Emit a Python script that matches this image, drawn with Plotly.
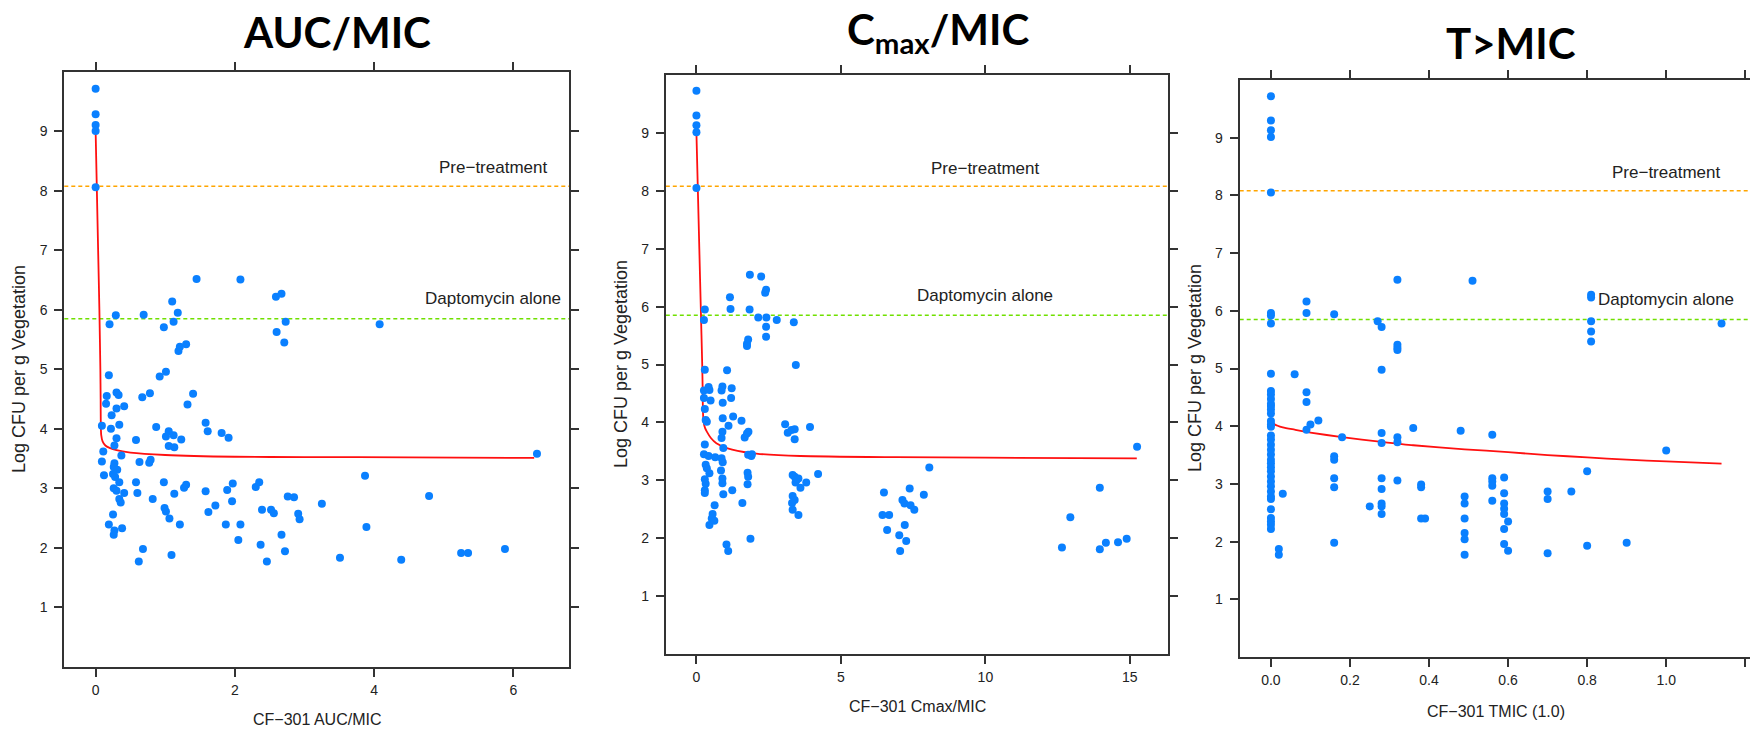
import plotly.graph_objects as go

# ---------------- data ----------------
# Panel 1: AUC/MIC
auc_x = [0, 0, 0, 0, 0,
         1.45, 2.08, 2.59, 2.67, 1.10, 0.29, 0.69, 1.18, 0.20, 0.98, 1.12, 2.73, 2.60, 2.71, 4.08,
         1.19, 1.21, 1.30, 0.19, 0.92, 1.01,
         0.16, 0.15, 0.30, 0.33, 0.30, 0.41, 0.23, 0.09, 0.22, 0.34, 0.30, 0.27, 0.11, 0.09, 0.12,
         0.37, 0.27, 0.26, 0.31, 0.25, 0.28, 0.34, 0.26, 0.30, 0.41, 0.34, 0.36, 0.25, 0.19, 0.38,
         0.27, 0.26, 0.67, 0.78, 0.87, 0.58, 0.63, 0.77, 0.79, 0.58, 0.60, 0.82, 0.98, 0.99, 1.01,
         1.06, 1.13, 1.21, 0.68, 0.62, 1.09, 1.01, 1.05, 1.12, 1.05, 1.13, 1.23, 1.32, 1.40, 1.27,
         1.30, 1.58, 1.61, 1.58, 1.62, 1.72, 1.81, 1.91, 1.87, 1.89, 1.97, 1.96, 2.08, 2.05, 2.30,
         2.35, 2.37, 2.39, 2.46, 2.52, 2.56, 2.67, 2.72, 2.76, 2.85, 2.91, 2.93, 3.25, 3.51, 3.87,
         3.89, 4.39, 4.79, 5.25, 5.35, 5.88, 6.34]
auc_y = [9.72, 9.29, 9.11, 9.01, 8.06,
         6.52, 6.51, 6.22, 6.27, 6.14, 5.91, 5.92, 5.95, 5.76, 5.71, 5.80, 5.80, 5.63, 5.45, 5.76,
         5.31, 5.38, 5.42, 4.90, 4.88, 4.96,
         4.55, 4.42, 4.61, 4.57, 4.34, 4.38, 4.23, 4.05, 4.00, 4.07, 3.84, 3.72, 3.62, 3.45, 3.22,
         3.55, 3.42, 3.36, 3.31, 3.24, 3.19, 3.10, 3.00, 2.96, 2.92, 2.82, 2.76, 2.56, 2.39, 2.33,
         2.29, 2.22, 4.53, 4.60, 4.03, 3.81, 3.44, 3.43, 3.48, 3.10, 2.92, 2.82, 3.10, 2.67, 2.61,
         2.49, 2.91, 2.39, 1.98, 1.77, 1.88, 3.87, 3.96, 3.89, 3.71, 3.69, 3.82, 4.41, 4.59, 3.01,
         3.06, 4.10, 3.96, 2.95, 2.60, 2.71, 3.93, 3.85, 2.39, 2.97, 3.08, 2.78, 2.39, 2.13, 3.02,
         3.10, 2.05, 2.64, 1.77, 2.64, 2.58, 2.22, 1.94, 2.86, 2.85, 2.57, 2.48, 2.74, 1.83, 3.21,
         2.35, 1.80, 2.87, 1.91, 1.91, 1.98, 3.58]
auc_fit_x = [0, 0.018, 0.036, 0.054, 0.068, 0.072, 0.074, 0.08, 0.1, 0.14, 0.2, 0.3, 0.5, 1.0,
             2.0, 3.0, 4.5, 6.3]
auc_fit_y = [9.0, 8.0, 7.0, 6.0, 5.0, 4.5, 4.1, 3.9, 3.79, 3.72, 3.68, 3.64, 3.60, 3.56,
             3.53, 3.525, 3.52, 3.51]

# Panel 2: Cmax/MIC
cmax_x = [0, 0, 0, 0, 0,
          0.29, 0.26, 1.16, 1.18, 1.85, 2.24, 2.41, 2.38, 1.84, 2.14, 2.42, 2.78, 3.37, 2.41, 2.41,
          1.79, 1.75, 1.75, 0.29, 1.06, 3.44,
          0.26, 0.42, 0.45, 0.26, 0.49, 0.29, 0.32, 0.36, 0.29, 0.26, 0.42, 0.65, 0.32, 0.36, 0.45,
          0.29, 0.32, 0.29, 0.29, 0.63, 0.56, 0.53, 0.45, 0.62, 0.90, 0.87, 1.22, 1.20, 0.91, 0.91,
          1.27, 1.11, 0.90, 0.87, 0.93, 0.87, 0.91, 0.85, 0.90, 0.90, 0.93, 1.24, 1.04, 1.10, 1.56,
          1.67, 1.75, 1.80, 1.79, 1.92, 1.90, 1.77, 1.79, 1.77, 1.59, 1.87, 3.07, 3.16, 3.29, 3.40,
          3.40, 3.93, 3.33, 3.40, 3.47, 3.53, 3.43, 3.60, 3.80, 4.21, 3.33, 3.40, 3.31, 3.33, 3.53,
          6.49, 6.44, 6.67, 6.60, 7.02, 7.05, 7.13, 7.20, 7.38, 7.41, 7.54, 7.21, 7.26, 7.87, 8.06,
          12.65, 12.94, 13.96, 13.96, 14.17, 14.59, 14.89, 15.25]
cmax_y = [9.73, 9.30, 9.13, 9.01, 8.05,
          5.95, 5.77, 6.16, 5.96, 6.55, 6.52, 6.29, 6.24, 5.95, 5.81, 5.81, 5.77, 5.73, 5.65, 5.48,
          5.43, 5.36, 5.32, 4.91, 4.90, 4.99,
          4.55, 4.61, 4.56, 4.42, 4.38, 4.23, 4.04, 4.01, 3.62, 3.45, 3.42, 3.40, 3.27, 3.21, 3.12,
          3.02, 2.94, 2.83, 2.78, 2.57, 2.42, 2.34, 2.23, 2.30, 4.62, 4.55, 4.59, 4.42, 4.34, 4.07,
          4.10, 3.94, 3.84, 3.73, 3.56, 3.38, 3.31, 3.17, 3.03, 2.95, 2.76, 2.83, 1.89, 1.78, 4.03,
          3.74, 3.81, 3.84, 3.44, 3.45, 3.42, 3.13, 3.06, 2.93, 2.61, 1.99, 3.97, 3.82, 3.87, 3.88,
          3.71, 3.92, 3.09, 3.06, 3.01, 3.03, 2.96, 2.87, 2.96, 3.11, 2.73, 2.66, 2.61, 2.49, 2.40,
          2.79, 2.40, 2.40, 2.14, 2.05, 1.78, 2.66, 2.60, 2.86, 2.57, 2.49, 2.23, 1.95, 2.75, 3.22,
          1.84, 2.36, 2.87, 1.81, 1.92, 1.93, 1.99, 3.58]
cmax_fit_x = [0, 0.05, 0.1, 0.15, 0.2, 0.215, 0.225, 0.25, 0.3, 0.36, 0.5, 0.69, 1.08, 1.88,
              3.6, 6.9, 10.0, 15.24]
cmax_fit_y = [9.0, 8.0, 7.0, 6.0, 5.0, 4.6, 4.2, 4.0, 3.9, 3.84, 3.73, 3.64, 3.55, 3.47,
              3.42, 3.40, 3.39, 3.38]

# Panel 3: T>MIC
tmic_x = [0, 0, 0, 0, 0, 0, 0, 0, 0, 0.06, 0.09, 0.09, 0.16, 0.27, 0.28, 0.32, 0.32, 0.32,
          0.32, 0.28, 0.51, 0.81, 0.81, 0.81, 0.81, 0.81, 1.14,
          0, 0, 0, 0, 0, 0, 0, 0, 0, 0, 0, 0, 0, 0, 0, 0, 0, 0, 0, 0, 0, 0, 0, 0, 0, 0, 0, 0, 0, 0,
          0.03, 0.02, 0.02, 0.09, 0.09, 0.09, 0.10, 0.12, 0.18, 0.16, 0.16, 0.16, 0.16, 0.16,
          0.25, 0.28, 0.28, 0.28, 0.28, 0.28, 0.28, 0.28, 0.32, 0.32, 0.32, 0.36, 0.38, 0.38,
          0.38, 0.39, 0.48, 0.49, 0.49, 0.49, 0.49, 0.49, 0.49, 0.56, 0.56, 0.56, 0.56, 0.56,
          0.59, 0.59, 0.59, 0.59, 0.59, 0.59, 0.59, 0.60, 0.60, 0.70, 0.70, 0.70, 0.76, 0.80,
          0.80, 0.90, 1.00]
tmic_y = [9.72, 9.30, 9.13, 9.01, 8.05, 5.96, 5.92, 5.78, 4.91, 4.90, 6.16, 5.96, 5.94, 5.82,
          5.72, 6.54, 5.41, 5.36, 5.32, 4.98, 6.52, 6.28, 6.23, 5.82, 5.64, 5.47, 5.78,
          4.61, 4.55, 4.47, 4.39, 4.35, 4.29, 4.22, 4.09, 4.03, 3.99, 3.84, 3.77, 3.68, 3.59,
          3.51, 3.42, 3.36, 3.29, 3.22, 3.13, 3.04, 2.96, 2.87, 2.78, 2.74, 2.56, 2.41, 2.35,
          2.29, 2.22,
          2.83, 1.87, 1.77, 4.59, 4.42, 3.94, 4.03, 4.10, 3.81, 3.48, 3.42, 3.10, 2.94, 1.98,
          2.61, 3.88, 3.71, 3.10, 2.91, 2.66, 2.61, 2.48, 3.81, 3.72, 3.06, 3.97, 2.99, 2.94,
          2.40, 2.40, 3.92, 2.78, 2.66, 2.40, 2.15, 2.04, 1.77, 3.85, 3.10, 3.04, 2.97, 2.71,
          3.11, 2.84, 2.66, 2.57, 2.48, 2.22, 1.96, 2.35, 1.84, 2.87, 2.74, 1.80, 2.87, 3.22,
          1.93, 1.98, 3.58]
tmic_fit_x = [0, 0.01, 0.03, 0.06, 0.1, 0.18, 0.28, 0.36, 0.49, 0.6, 0.7, 0.8, 0.9, 1.0, 1.14]
tmic_fit_y = [4.11, 4.03, 3.98, 3.94, 3.89, 3.81, 3.73, 3.67, 3.60, 3.55, 3.50, 3.46, 3.42,
              3.39, 3.35]

pretreat_level = 8.08
dapto_level = 5.85

titles = ["<b>AUC/MIC</b>", "<b>C<sub>max</sub>/MIC</b>", "<b>T&gt;MIC</b>"]
x_titles = ["CF\u2212301 AUC/MIC", "CF\u2212301 Cmax/MIC", "CF\u2212301 TMIC (1.0)"]
y_title = "Log CFU per g Vegetation"
y_ticks = [1, 2, 3, 4, 5, 6, 7, 8, 9]
x_ticks = [[0, 2, 4, 6], [0, 5, 10, 15], [0, 0.2, 0.4, 0.6, 0.8, 1.0]]
x_ticktext = [["0", "2", "4", "6"], ["0", "5", "10", "15"],
              ["0.0", "0.2", "0.4", "0.6", "0.8", "1.0"]]
x_unlabeled_ticks = [[], [], [1.2]]
label_x = [5.71, 10.0, 1.0]
label_pre_y = 8.39
label_dap_y = 6.19

# ---------------- layout geometry (pixels) ----------------
W, H = 1750, 730
boxes = [  # left, right, top, bottom
    (64.3, 569.0, 72.0, 666.7),
    (665.8, 1168.0, 75.0, 654.0),
    (1239.7, 1750.0, 80.0, 657.0),
]
x_ranges = [[-0.45, 6.80], [-1.06, 16.32], [-0.079, 1.212]]
title_pos = [(336.8, 32), (938, 32), (1511, 43)]
xtitle_pos = [(316.6, 719), (917, 706), (1496, 711)]
ytitle_pos = [(19, 369), (621, 364), (1195, 368)]

BLUE = "#0a80ff"
AXC = "#333333"
NARROW = "Liberation Sans Narrow, Arial Narrow, Liberation Sans, sans-serif"
TICKFONT = dict(family=NARROW, size=14, color="#222")

datasets = [(auc_x, auc_y, auc_fit_x, auc_fit_y),
            (cmax_x, cmax_y, cmax_fit_x, cmax_fit_y),
            (tmic_x, tmic_y, tmic_fit_x, tmic_fit_y)]

fig = go.Figure()
layout = dict(width=W, height=H, margin=dict(l=0, r=0, t=0, b=0),
              paper_bgcolor="white", plot_bgcolor="white", showlegend=False)
annotations = []
shapes = []

for i, (bx, (px, py, fx, fy)) in enumerate(zip(boxes, datasets)):
    n = "" if i == 0 else str(i + 1)
    xa, ya = "x" + n, "y" + n
    l, r, t, b = bx
    xax = dict(
        domain=[l / W, r / W], anchor=ya, range=x_ranges[i],
        tickmode="array", tickvals=x_ticks[i], ticktext=x_ticktext[i],
        showline=True, linecolor=AXC, linewidth=2, mirror="ticks",
        ticks="outside", ticklen=8, tickwidth=1.5, tickcolor=AXC,
        showgrid=False, zeroline=False, tickfont=TICKFONT, ticklabelstandoff=1)
    if x_unlabeled_ticks[i]:
        xax["minor"] = dict(tickmode="array", tickvals=x_unlabeled_ticks[i], ticks="outside",
                            ticklen=8, tickwidth=1.5, tickcolor=AXC, showgrid=False)
    layout["xaxis" + n] = xax
    layout["yaxis" + n] = dict(
        domain=[1 - b / H, 1 - t / H], anchor=xa, range=[0, 10],
        tickmode="array", tickvals=y_ticks,
        showline=True, linecolor=AXC, linewidth=2,
        mirror=("ticks" if i < 2 else False),
        ticks="outside", ticklen=8, tickwidth=1.5, tickcolor=AXC,
        showgrid=False, zeroline=False, tickfont=TICKFONT, ticklabelstandoff=4)

    for lvl, col in ((pretreat_level, "#ffa500"), (dapto_level, "#70e000")):
        shapes.append(dict(type="line", xref=xa + " domain", x0=0, x1=1, yref=ya,
                           y0=lvl, y1=lvl, line=dict(color=col, width=1.5, dash="4px,3px"),
                           layer="below"))

    fig.add_trace(go.Scatter(x=fx, y=fy, mode="lines", xaxis=xa, yaxis=ya,
                             line=dict(color="#ff1010", width=1.8, shape="spline",
                                       smoothing=0.6),
                             hoverinfo="skip"))
    fig.add_trace(go.Scatter(x=px, y=py, mode="markers", xaxis=xa, yaxis=ya,
                             marker=dict(color=BLUE, size=8, line=dict(width=0))))

    for txt, yy in (("Pre\u2212treatment", label_pre_y), ("Daptomycin alone", label_dap_y)):
        annotations.append(dict(text=txt, x=label_x[i], y=yy, xref=xa, yref=ya,
                                showarrow=False, xanchor="center", yanchor="middle",
                                font=dict(family=NARROW, size=17, color="#222")))

    tx, ty = title_pos[i]
    annotations.append(dict(text=titles[i], x=tx / W, y=1 - ty / H, xref="paper", yref="paper",
                            showarrow=False, xanchor="center", yanchor="middle",
                            font=dict(family="Lato, Open Sans, sans-serif", size=42, color="black")))
    qx, qy = xtitle_pos[i]
    annotations.append(dict(text=x_titles[i], x=qx / W, y=1 - qy / H, xref="paper", yref="paper",
                            showarrow=False, xanchor="center", yanchor="middle",
                            font=dict(family=NARROW, size=16, color="#222")))
    yx, yy2 = ytitle_pos[i]
    annotations.append(dict(text=y_title, x=yx / W, y=1 - yy2 / H, xref="paper", yref="paper",
                            showarrow=False, xanchor="center", yanchor="middle", textangle=-90,
                            font=dict(family="Liberation Sans, Arial, sans-serif", size=18,
                                      color="#222")))

layout["annotations"] = annotations
layout["shapes"] = shapes
fig.update_layout(**layout)
fig.write_html("out.html",
               config={"displayModeBar": False},
               post_script="document.body.style.margin='0';"
                           "document.body.style.padding='0';"
                           "document.body.style.overflow='hidden';")
